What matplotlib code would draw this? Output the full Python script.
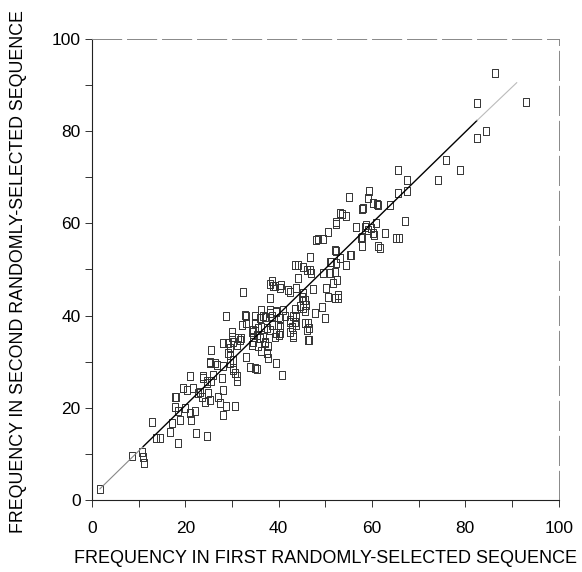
import numpy as np
import matplotlib
matplotlib.use("Agg")
import matplotlib.pyplot as plt
from matplotlib.ticker import MultipleLocator

plt.rcParams['font.family'] = ['Liberation Sans', 'DejaVu Sans']

# frequency pairs (first sequence, second sequence)
first_freq = [
    1.7, 8.5, 10.8, 11.0, 11.1, 12.8, 13.7, 14.6, 16.7, 17.1, 18.5, 17.8, 18.5, 18.8,
    19.9, 21.0, 21.3, 22.1, 22.3, 24.7, 17.8, 20.3, 21.7, 22.8, 23.5, 24.9, 24.6, 25.6,
    28.1, 24.2, 25.3, 27.4, 28.8, 30.6, 28.1, 19.6, 21.0, 23.8, 24.6, 23.1, 27.1, 18.1,
    23.8, 26.0, 27.8, 30.3, 31.0, 31.0, 30.6, 25.3, 26.3, 28.1, 30.3, 34.9, 35.3, 39.5,
    40.8, 33.8, 25.6, 25.3, 26.7, 29.6, 30.3, 28.1, 29.2, 29.2, 29.6, 33.1, 29.6, 31.0,
    29.9, 30.1, 31.3, 32.0, 30.3, 31.7, 34.2, 34.5, 34.5, 36.7, 37.0, 37.8, 36.3, 37.4,
    37.8, 39.5, 40.1, 46.3, 46.0, 34.5, 35.3, 36.0, 37.1, 35.6, 34.2, 38.1, 39.2, 40.3,
    42.4, 43.1, 43.8, 43.1, 32.2, 34.9, 35.6, 36.3, 37.4, 38.5, 39.9, 40.3, 42.4, 42.8,
    46.3, 46.5, 45.6, 28.8, 33.1, 36.0, 37.0, 38.5, 40.3, 43.1, 43.5, 49.9, 32.8, 33.1,
    34.9, 36.7, 38.1, 39.5, 41.3, 42.4, 43.8, 36.3, 38.1, 39.5, 41.0, 47.8, 44.5, 45.3,
    49.2, 38.1, 44.9, 45.3, 52.0, 52.7, 32.3, 38.5, 38.8, 40.3, 42.0, 42.5, 43.8, 47.4,
    50.2, 38.1, 39.2, 40.6, 45.3, 45.6, 44.2, 50.6, 52.8, 43.5, 45.6, 45.8, 46.5,
    46.7, 44.2, 43.5, 46.7, 47.0, 49.5, 52.0, 52.4, 51.7, 52.2, 51.3, 52.2, 55.6, 54.4,
    61.7, 57.9, 57.9, 60.4, 62.7, 65.8, 67.0, 56.5, 58.8, 59.7, 60.8, 48.5, 49.4, 50.6,
    52.2, 52.2, 53.5, 54.5, 57.9, 60.2, 61.2, 63.9, 55.1, 59.4, 59.2, 65.6, 67.4, 65.6,
    67.6, 74.2, 78.8, 75.9, 82.5, 84.4, 82.5, 92.9, 86.3,
    58.1, 61.0, 53.1, 58.5, 59.2, 60.2, 57.7, 61.3, 65.2, 48.1, 52.0, 50.9, 53.1, 55.2,
    45.3, 46.0, 50.9,
]
second_freq = [
    2.3, 9.5, 10.3, 9.4, 8.1, 16.8, 13.4, 13.4, 14.8, 16.6, 12.3, 20.2, 19.2, 17.4,
    19.9, 18.8, 17.4, 19.2, 14.6, 13.9, 22.4, 23.9, 24.2, 23.1, 22.4, 23.1, 25.3, 25.7,
    23.9, 21.3, 21.7, 21.0, 20.4, 20.4, 18.4, 24.2, 26.8, 26.4, 25.7, 23.5, 22.4, 22.4,
    26.8, 27.1, 26.4, 28.2, 26.8, 25.7, 27.5, 29.7, 29.7, 29.0, 28.6, 28.6, 28.4, 29.7,
    27.1, 28.9, 32.5, 30.0, 29.3, 29.6, 30.4, 34.0, 34.0, 31.8, 31.5, 31.1, 32.9, 33.6,
    36.5, 35.4, 35.1, 35.1, 34.3, 34.7, 36.5, 35.4, 34.3, 35.4, 34.3, 33.3, 32.2, 31.8,
    30.7, 36.2, 35.8, 34.7, 36.9, 36.9, 35.8, 35.1, 34.0, 33.3, 33.6, 36.9, 35.4, 37.6,
    36.5, 35.8, 37.9, 35.4, 38.0, 38.3, 37.2, 37.6, 37.2, 38.0, 38.0, 36.2, 38.7, 37.6,
    38.3, 37.2, 38.3, 39.8, 39.8, 39.4, 39.6, 39.8, 39.4, 39.8, 38.7, 39.4, 40.1, 38.3,
    39.8, 39.8, 40.5, 40.8, 39.8, 39.0, 39.8, 41.2, 41.2, 40.9, 41.2, 40.6, 42.1, 41.6,
    41.9, 43.7, 44.1, 43.4, 43.9, 43.7, 45.0, 47.4, 46.3, 45.9, 45.5, 45.2, 45.9, 45.7,
    45.9, 46.9, 46.3, 46.6, 44.8, 43.4, 48.1, 44.1, 44.5, 41.4, 40.9, 42.3, 34.7,
    52.6, 51.0, 51.0, 49.9, 49.2, 49.2, 49.5, 47.7, 47.0, 53.9, 51.7, 51.3, 53.1, 51.0,
    54.6, 55.0, 57.1, 57.5, 57.9, 56.8, 60.6, 59.3, 59.7, 59.0, 60.0, 56.5, 56.5, 58.2,
    59.9, 60.2, 62.0, 61.5, 63.1, 64.4, 64.0, 64.0, 65.8, 66.9, 65.4, 66.5, 66.9, 71.6,
    69.4, 69.5, 71.6, 73.7, 78.4, 80.0, 86.2, 86.4, 92.5,
    63.3, 64.2, 62.2, 59.3, 58.6, 57.8, 56.8, 55.0, 56.8, 56.4, 54.2, 51.7, 52.4, 53.1,
    50.5, 49.9, 49.2,
]

# regression line: light ends, dark middle
fit_x = [1.7, 11.0, 82.5, 91.0]
fit_y = [2.4, 11.6, 82.3, 90.5]

fig = plt.figure(figsize=(5.82, 5.72), dpi=100)
ax = fig.add_axes([0.158, 0.126, 0.802, 0.806])

box = [(-0.38, -0.5), (0.38, -0.5), (0.38, 0.5), (-0.38, 0.5), (-0.38, -0.5)]
ax.plot(first_freq, second_freq, linestyle='none', marker=box, markersize=6,
        markerfacecolor='none', markeredgecolor='#333333', markeredgewidth=0.7)

ax.plot(fit_x[:2], fit_y[:2], color='#888888', lw=0.8)
ax.plot(fit_x[1:3], fit_y[1:3], color='black', lw=1.0)
ax.plot(fit_x[2:], fit_y[2:], color='#bbbbbb', lw=0.8)

ax.set_xlim(0, 100)
ax.set_ylim(0, 100)
ax.xaxis.set_major_locator(MultipleLocator(20))
ax.yaxis.set_major_locator(MultipleLocator(20))
ax.xaxis.set_minor_locator(MultipleLocator(10))
ax.yaxis.set_minor_locator(MultipleLocator(10))
ax.tick_params(which='both', direction='out', length=5, width=0.7, color='#333333')
ax.tick_params(axis='x', labelsize=12.5, pad=10)
ax.tick_params(axis='y', labelsize=12.5, pad=3)

for side in ['left', 'bottom']:
    ax.spines[side].set_color('#222222')
    ax.spines[side].set_linewidth(0.8)
for side in ['top', 'right']:
    ax.spines[side].set_color('#888888')
    ax.spines[side].set_linewidth(0.7)
    ax.spines[side].set_linestyle((0, (30, 6)))

ax.set_xlabel('FREQUENCY IN FIRST RANDOMLY-SELECTED SEQUENCE', fontsize=13, labelpad=10)
ax.set_ylabel('FREQUENCY IN SECOND RANDOMLY-SELECTED SEQUENCE', fontsize=12.8)
ax.yaxis.set_label_coords(-0.14, 0.495)

fig.savefig('out.png', dpi=100)
